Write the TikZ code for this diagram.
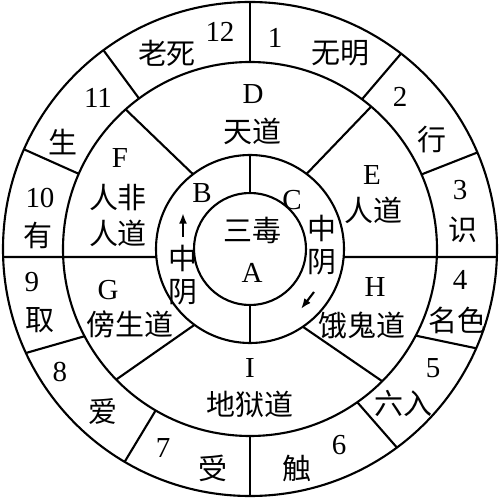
\documentclass[tikz,border=0pt]{standalone}
\usepackage{fontspec}
\setmainfont{Liberation Serif}
\newfontfamily\cjk{Noto Sans CJK SC}
\usetikzlibrary{arrows.meta}
\begin{document}
\begin{tikzpicture}
[ringdecorate/.style={draw,line width=1.2pt},%
  linedecorate/.style={-,line width=1.2pt},%
  arrowdecorate/.style={-{Latex[length=6pt,width=4.5pt]},line width=1.2pt},%
  numdecorate/.style={inner sep=0pt,font=\fontsize{16.5}{18}\selectfont},%
  worddecorate/.style={inner sep=0pt,font=\fontsize{16.5}{18}\selectfont\cjk},%
  x=0.02cm,y=0.02cm]
\useasboundingbox (-250,-251) rectangle (250,249);
%% circles
\foreach \radius in {247,187,94,56}
  \draw[ringdecorate] (0,0) circle (\radius);
%% dividers of the twelve links
\foreach \inner/\outer in {90/90, 53.2/52.3, 23.5/23, -2.45/-1.86,
  -27.6/-23.7, -55/-53.5, -90/-90, 239.7/239.5, 207.8/204.9,
  182.45/181.86, 156.3/156.2, 126.4/126.4}
  \draw[linedecorate] (\inner:187) -- (\outer:247);
%% dividers of the six paths
\foreach \inner/\outer in {53/49.6, -4.88/-2.45, -55.8/-45,
  233.8/224.3, 184.88/182.45, 127.3/131.7}
  \draw[linedecorate] (\inner:94) -- (\outer:187);
%% dividers of the middle ring
\foreach \angle in {90,-90}
  \draw[linedecorate] (\angle:56) -- (\angle:94);
%% numbers
\foreach \nodename/\x/\y/\txt in {
  num1/25/211/1, num2/150/152/2, num3/210/59/3, num4/210/-31/4,
  num5/183/-119/5, num6/89/-196/6, num7/-87/-199/7, num8/-190/-123/8,
  num9/-218/-33/9, num10/-210/51/10, num11/-152/151/11, num12/-30/217/12}
  \node[numdecorate] (\nodename) at (\x,\y) {\txt};
%% links
\foreach \nodename/\x/\y/\txt in {
  wuming/90/196/无明, xing/182/109/行, shi/213/19/识, mingse/207/-71/名色,
  liuru/153/-154/六入, chu/47/-219/触, shou/-37/-219/受, ai/-147/-163/爱,
  qu/-210/-71/取, you/-212/14/有, sheng/-187/107/生, laosi/-83/196/老死}
  \node[worddecorate] (\nodename) at (\x,\y) {\txt};
%% paths
\foreach \nodename/\x/\y/\txt in {
  D/3/155/D, E/122/74/E, F/-130/91/F, G/-142/-41/G, H/125/-38/H,
  I/0/-119/I, B/-48/56/B, C/42/49/C, A/2/-24/A}
  \node[numdecorate] (\nodename) at (\x,\y) {\txt};
\foreach \nodename/\x/\y/\txt in {
  tiandao/2/118/天道, rendao/123/39/人道, renfei/-132/51/人非,
  feidao/-132/16/人道, pangsheng/-120/-75/傍生道, egui/112/-76/饿鬼道,
  diyu/0/-155/地狱道, sandu/2/19/三毒,
  zhongB/-67/-9/中, yinB/-67/-43/阴, zhongC/72/21/中, yinC/72/-13/阴}
  \node[worddecorate] (\nodename) at (\x,\y) {\txt};
%% arrows
\coordinate (bfrom) at (-67,12);
\coordinate (bto) at (-67,36);
\coordinate (cfrom) at (64,-43);
\coordinate (cto) at (51,-60);
\draw[arrowdecorate] (bfrom) -- (bto);
\draw[arrowdecorate] (cfrom) -- (cto);
\end{tikzpicture}
\end{document}
